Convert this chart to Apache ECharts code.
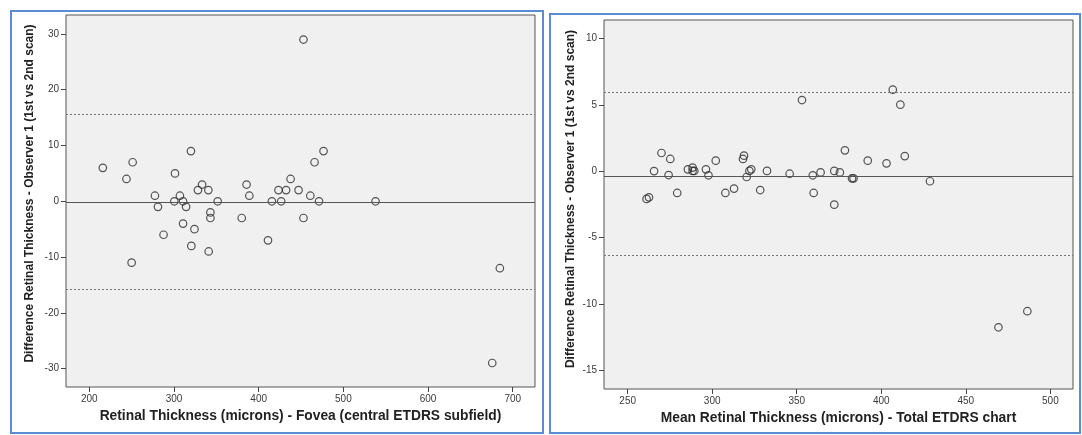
<!DOCTYPE html>
<html><head><meta charset="utf-8">
<script src="https://cdn.jsdelivr.net/npm/echarts@6/dist/echarts.min.js"></script>
<style>html,body{margin:0;padding:0;background:#fff;}#c{width:1082px;height:435px;}</style>
</head><body><div id="c"></div>
<script>
// ---- Left panel: Fovea (central ETDRS subfield) ----
const foveaX = [216,243.9,251.2,250,277.5,281.1,287.7,301.2,300.4,307,310.7,314.3,310.7,320,320.5,324.2,328.3,333.2,340.6,341,343,343,351.6,380,385.7,389,411,415.6,423.4,426.6,432.4,437.7,447.1,452.9,452.9,461,466,471.3,476.6,538,675.8,684.8];
const foveaY = [6,4,7,-11,1,-1,-6,5,0,1,0,-1,-4,9,-8,-5,2,3,2,-9,-2,-3,0,-3,3,1,-7,0,2,0,2,4,2,29,-3,1,7,0,9,0,-29,-12];
const foveaBias = -0.1;
const foveaUpper = 15.66;
const foveaLower = -15.84;
const foveaXTicks = [200,300,400,500,600,700];
const foveaYTicks = [-30,-20,-10,0,10,20,30];

// ---- Right panel: Total ETDRS chart ----
const totalX = [261.2,262.6,265.6,270,274.2,275.2,279.3,285.6,288.4,288.4,289.4,296.3,297.8,302.1,307.8,312.9,318.2,318.8,320.4,322,323.1,328.4,332.4,345.8,353.1,359.5,360,364.1,372.2,372.2,375.5,378.5,382.7,383.6,392,403.1,406.8,411.3,413.9,428.8,469.3,486.4];
const totalY = [-2.08,-1.96,0.02,1.38,-0.28,0.93,-1.63,0.15,0.28,0.03,0.03,0.15,-0.3,0.8,-1.63,-1.3,0.93,1.18,-0.43,0.03,0.15,-1.41,0.03,-0.18,5.37,-0.3,-1.63,-0.08,0.03,-2.51,-0.08,1.58,-0.53,-0.53,0.8,0.6,6.15,5.02,1.15,-0.75,-11.75,-10.54];
const totalBias = -0.34;
const totalUpper = 5.93;
const totalLower = -6.29;
const totalXTicks = [250,300,350,400,450,500];
const totalYTicks = [-15,-10,-5,0,5,10];

const FONT = 'Liberation Sans';
function pairs(xs, ys){ return xs.map((x,i)=>[x, ys[i]]); }

function xAxisOf(idx, min, max, ticks, name){
  return {
    type:'value', gridIndex:idx, min:min, max:max,
    name:name, nameLocation:'middle', nameGap:22,
    nameTextStyle:{fontFamily:FONT, fontWeight:'bold', fontSize:13.8, color:'#222'},
    axisLine:{show:false, onZero:false},
    axisTick:{show:true, length:5, customValues:ticks, lineStyle:{color:'#444'}},
    axisLabel:{customValues:ticks, margin:7, fontFamily:FONT, fontSize:10, color:'#3a3a3a'},
    splitLine:{show:false}
  };
}
function yAxisOf(idx, min, max, ticks, gap, shift){
  return {
    type:'value', gridIndex:idx, min:min, max:max,
    name:'Difference Retinal Thickness - Observer 1 (1st vs 2nd scan)',
    nameLocation:'middle', nameGap:gap,
    nameTextStyle:{fontFamily:FONT, fontWeight:'bold', fontSize:12, color:'#222', padding:[0,0,0,shift]},
    axisLine:{show:false, onZero:false},
    axisTick:{show:true, length:5, customValues:ticks, lineStyle:{color:'#444'}},
    axisLabel:{customValues:ticks, margin:7, fontFamily:FONT, fontSize:10, color:'#3a3a3a'},
    splitLine:{show:false}
  };
}
function seriesOf(idx, data, bias, up, lo){
  return {
    type:'scatter', xAxisIndex:idx, yAxisIndex:idx, data:data,
    symbol:'circle', symbolSize:7.5,
    itemStyle:{color:'rgba(0,0,0,0)', borderColor:'#2a2a2a', borderWidth:1.2},
    emphasis:{disabled:true}, silent:true, z:3,
    markLine:{
      silent:true, symbol:['none','none'], label:{show:false},
      data:[
        {yAxis:bias, lineStyle:{type:'solid', color:'#555', width:1}},
        {yAxis:up, lineStyle:{type:[2,2], color:'#777', width:1}},
        {yAxis:lo, lineStyle:{type:[2,2], color:'#777', width:1}}
      ]
    }
  };
}

const chart = echarts.init(document.getElementById('c'), null, {renderer:'canvas'});
chart.setOption({
  animation:false,
  backgroundColor:'#fff',
  graphic:[
    {type:'rect', shape:{x:11, y:11, width:532, height:422}, style:{fill:'none', stroke:'#5b8bd0', lineWidth:2}, z:0},
    {type:'rect', shape:{x:550, y:14, width:530, height:419}, style:{fill:'none', stroke:'#5b8bd0', lineWidth:2}, z:0}
  ],
  grid:[
    {left:66, top:15, width:469, height:372, show:true, backgroundColor:'#f0f0f0', borderColor:'#555', borderWidth:1},
    {left:604, top:20, width:469, height:369, show:true, backgroundColor:'#f0f0f0', borderColor:'#555', borderWidth:1}
  ],
  xAxis:[
    xAxisOf(0, 172.5, 726.3, foveaXTicks, 'Retinal Thickness (microns) - Fovea (central ETDRS subfield)'),
    xAxisOf(1, 236, 513.4, totalXTicks, 'Mean Retinal Thickness (microns) - Total ETDRS chart')
  ],
  yAxis:[
    yAxisOf(0, -33.3, 33.4, foveaYTicks, 30, 15),
    yAxisOf(1, -16.4, 11.4, totalYTicks, 27, 11)
  ],
  series:[
    seriesOf(0, pairs(foveaX, foveaY), foveaBias, foveaUpper, foveaLower),
    seriesOf(1, pairs(totalX, totalY), totalBias, totalUpper, totalLower)
  ]
});
</script></body></html>
